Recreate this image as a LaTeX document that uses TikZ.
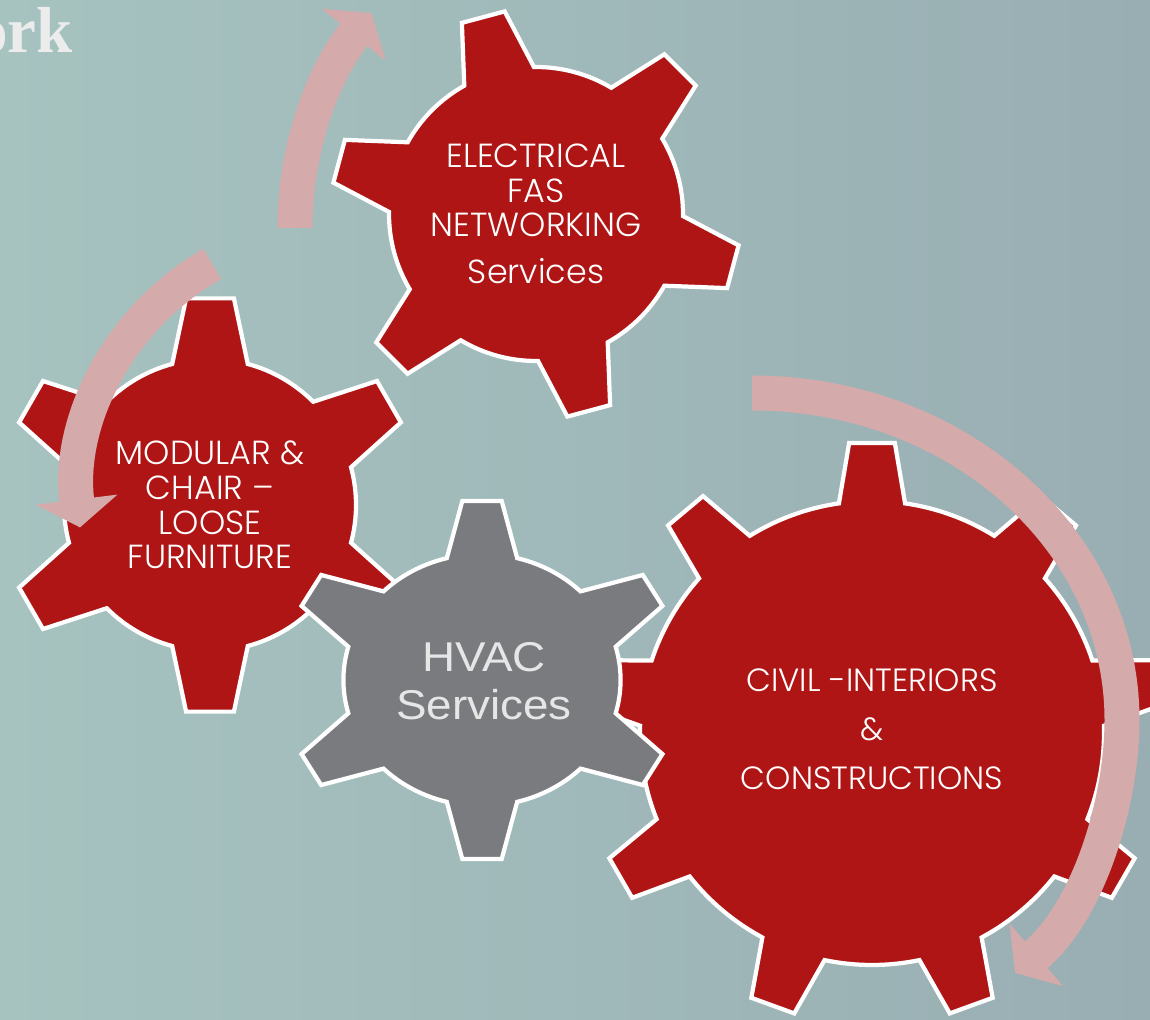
\documentclass[tikz,border=0pt]{standalone}
\usepackage{fontspec}
\setmainfont{Poppins}[UprightFont=* Light]
\newfontfamily\hvacfont{Liberation Sans}[FakeStretch=1.1]
\newfontfamily\titlefont{Liberation Serif}
\usetikzlibrary{arrows.meta}
\definecolor{bgleft}{RGB}{166,195,192}
\definecolor{bgright}{RGB}{153,174,179}
\definecolor{gearred}{RGB}{176,21,21}
\definecolor{geargray}{RGB}{121,123,126}
\definecolor{arrowpink}{RGB}{213,170,170}
\definecolor{hvactext}{RGB}{230,230,230}
\definecolor{titlegray}{RGB}{236,236,236}
% gear: centre x, centre y, teeth, first tooth angle, root radius, tip radius, half base angle, half tip angle, style
\newcommand{\gear}[9]{%
  \begin{scope}[shift={(#1,#2)}]
    \draw[#9] ({#4-#7}:#5) foreach \k in {1,...,#3}{
        -- ({#4+(\k-1)*360/#3-#8}:#6) -- ({#4+(\k-1)*360/#3+#8}:#6)
        -- ({#4+(\k-1)*360/#3+#7}:#5)
        arc[start angle={#4+(\k-1)*360/#3+#7}, end angle={#4+\k*360/#3-#7}, radius=#5]
      } -- cycle;
  \end{scope}}
\begin{document}
\begin{tikzpicture}[x=0.02cm, y=0.02cm,
    redgear/.style={fill=gearred, draw=white, line width=2.4pt},
    graygear/.style={fill=geargray, draw=white, line width=2.4pt},
    turnarrow/.style={draw=arrowpink, line width=0.7cm, -{Triangle[length=0.56cm, width=1.62cm]}},
    geartext/.style={text=white, align=center, font=\fontsize{19}{19.8}\selectfont}]
        % background
        \useasboundingbox (0,0) rectangle (1150,1019);
        \clip (0,0) rectangle (1150,1019);
        \shade[left color=bgleft, right color=bgright] (0,0) rectangle (1150,1019);
        % what is left of the slide title
        \node[anchor=base west, inner sep=0, text=titlegray, font=\titlefont\bfseries\fontsize{37}{40}\selectfont] (title) at (-25,966) {ork};
        % gears
        \gear{872}{286}{9}{90}{232}{291}{8.2}{4.5}{redgear}
        \gear{210}{514}{6}{90}{146}{208}{15}{6.6}{redgear}
        \gear{536}{805}{6}{105}{147}{205}{14.2}{6.2}{redgear}
        \gear{482}{339}{6}{90}{126}{180}{14.7}{5.7}{graygear, xscale=1.1}
        % turning arrows
        \draw[turnarrow] ([shift={(180:340)}]635,791) arc[start angle=180, end angle=140.8, radius=340];
        \draw[turnarrow] ([shift={(119.7:266)}]344,524) arc[start angle=119.7, end angle=187, radius=266];
        \draw[turnarrow] (752,626) .. controls (956,626) and (1122,480) .. (1122,299)
                                   .. controls (1122,219) and (1090,110) .. (1015,46);
        % gear labels
        \node[geartext] (elec)    at (536,805) {ELECTRICAL\\FAS\\NETWORKING\\[7pt]Services};
        \node[geartext] (modular) at (210,514) {MODULAR \&\\CHAIR –\\LOOSE\\FURNITURE};
        \node[geartext, font=\fontsize{18.3}{27.8}\selectfont] (civil) at (872,290) {CIVIL -INTERIORS\\\&\\CONSTRUCTIONS};
        \node[align=center, text=hvactext, font=\hvacfont\fontsize{23.7}{27}\selectfont] (hvac) at (484,338) {HVAC\\Services};
\end{tikzpicture}
\end{document}
